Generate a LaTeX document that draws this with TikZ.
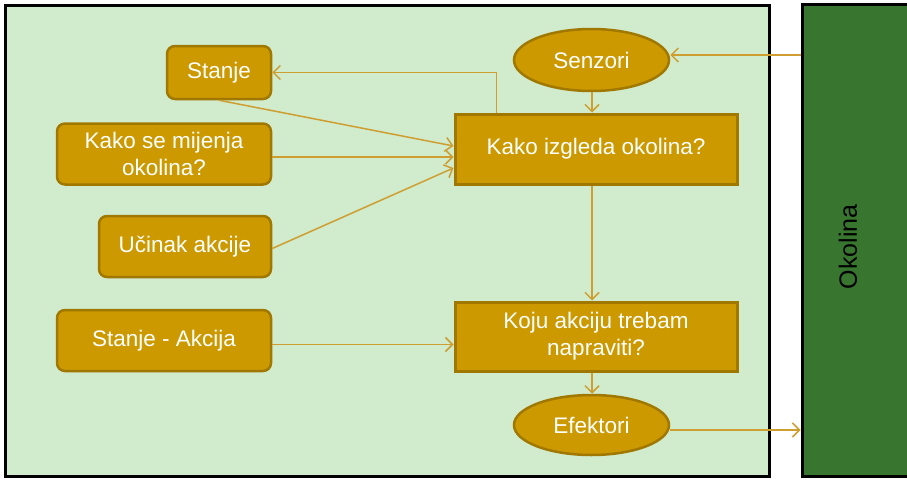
\documentclass[tikz,border=0pt]{standalone}
\usepackage{fontspec}
\setmainfont{Liberation Sans}
\usetikzlibrary{shapes.geometric,arrows.meta,calc}
\definecolor{lightgreen}{RGB}{209,235,205}
\definecolor{darkgreen}{RGB}{56,117,47}
\definecolor{gold}{RGB}{204,153,0}
\definecolor{golddark}{RGB}{160,120,0}
\definecolor{linegold}{RGB}{206,158,48}
\tikzset{
  box/.style={draw=golddark, fill=gold, line width=2.5pt, rounded corners=8pt,
    text=white, align=center, inner sep=0pt,
    font=\fontsize{22.5}{27}\selectfont},
  sqbox/.style={draw=golddark, fill=gold, line width=3pt,
    text=white, align=center, inner sep=0pt,
    font=\fontsize{22.5}{27}\selectfont},
  oval/.style={ellipse, draw=golddark, fill=gold, line width=2.5pt,
    text=white, inner sep=0pt, font=\fontsize{22.5}{27}\selectfont},
  conn/.style={draw=linegold, line width=1.5pt,
    -{Straight Barb[length=7pt,width=14pt,line width=1.5pt]}},
}
\begin{document}
\begin{tikzpicture}[x=1pt,y=-1pt]
\useasboundingbox (0,0) rectangle (907,479);
\fill[white] (0,0) rectangle (907,479);
% panel
\node[draw=black, fill=lightgreen, line width=3pt, minimum width=764pt, minimum height=471pt, inner sep=0pt] (panel) at (387.5,240.5) {};
% environment
\node[draw=black, fill=darkgreen, line width=3pt, minimum width=112pt, minimum height=472pt, inner sep=0pt] (okolina) at (858,240) {};
\node[rotate=90, font=\fontsize{25}{30}\selectfont, text=black] (okt) at (848,247) {Okolina};
% nodes
\node[box, minimum width=104pt, minimum height=53pt] (stanje) at (219,72.5) {Stanje};
\node[box, minimum width=214pt, minimum height=61pt] (ksm) at (164,154) {Kako se mijenja\\okolina?};
\node[box, minimum width=172pt, minimum height=61pt] (ucinak) at (185,246.5) {Učinak akcije};
\node[box, minimum width=214pt, minimum height=61pt] (sa) at (164,340.5) {Stanje - Akcija};
\node[oval, minimum width=155pt, minimum height=62pt] (senz) at (591.5,60) {Senzori};
\node[sqbox, minimum width=282pt, minimum height=70pt] (kio) at (596,149) {Kako izgleda okolina?};
\node[sqbox, minimum width=282pt, minimum height=69pt] (koju) at (596,336.5) {Koju akciju trebam\\napraviti?};
\node[oval, minimum width=155pt, minimum height=60pt] (eff) at (591.5,425) {Efektori};
% helper coordinates
\coordinate (senzin) at ([yshift=5pt]senz.east);
\coordinate (effout) at ([yshift=-5pt]eff.east);
\coordinate (vx) at (592,0);
\coordinate (kiotop) at ($(kio.north west)+(43,0)$);
% connectors
\draw[conn] (okolina.west |- senzin) -- (senzin);
\draw[conn] (senz.south -| vx) -- (kio.north -| vx);
\draw[conn] (kiotop) |- (stanje.east);
\draw[conn] (stanje.south) -- ([yshift=3pt]kio.west);
\draw[conn] ([yshift=-8pt]kio.west -| ksm.east) -- ([yshift=-8pt]kio.west);
\draw[conn] ([yshift=-2pt]ucinak.east) -- ([yshift=-19pt]kio.west);
\draw[conn] (kio.south -| vx) -- (koju.north -| vx);
\draw[conn] ([yshift=-8pt]koju.west -| sa.east) -- ([yshift=-8pt]koju.west);
\draw[conn] (koju.south -| vx) -- (eff.north -| vx);
\draw[conn] (effout) -- (okolina.west |- effout);
\end{tikzpicture}
\end{document}
